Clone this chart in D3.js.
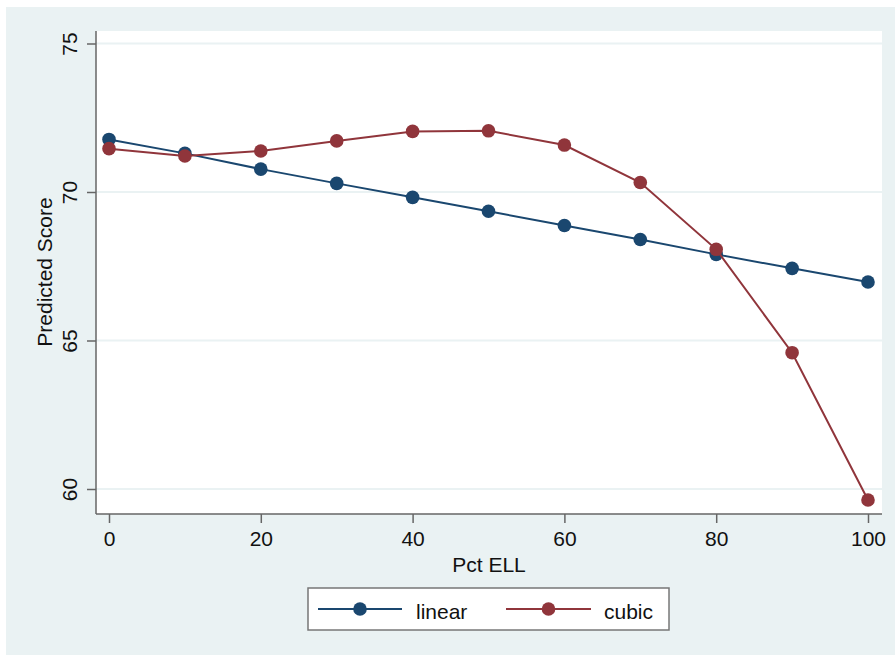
<!DOCTYPE html>
<html>
<head>
<meta charset="utf-8">
<script src="https://cdn.jsdelivr.net/npm/d3@7"></script>
<style>
  body { margin: 0; background: #fff; }
  text { font-family: "Liberation Sans", Arial, sans-serif; fill: #111; }
</style>
</head>
<body>
<div id="chart"></div>
<script>
"use strict";
// data
const pctEll = [0, 10, 20, 30, 40, 50, 60, 70, 80, 90, 100];
const linear = [71.77, 71.30, 70.77, 70.29, 69.82, 69.35, 68.87, 68.40, 67.90, 67.43, 66.97];
const cubic = [71.46, 71.21, 71.38, 71.72, 72.04, 72.06, 71.58, 70.32, 68.07, 64.59, 59.63];
const xTicks = [0, 20, 40, 60, 80, 100];
const yTicks = [60, 65, 70, 75];
const seriesNames = ["linear", "cubic"];
const seriesColors = ["#1a476f", "#90353b"];

const W = 895, H = 655;
const svg = d3.select("#chart").append("svg").attr("width", W).attr("height", H);

// graph region + plot region
svg.append("rect").attr("x", 6).attr("y", 7).attr("width", W - 6).attr("height", H - 7).attr("fill", "#eaf2f3");
const plot = {left: 96, right: 882, top: 31, bottom: 514};
svg.append("rect").attr("x", plot.left).attr("y", plot.top)
    .attr("width", plot.right - plot.left).attr("height", plot.bottom - plot.top).attr("fill", "#fff");

const x = d3.scaleLinear().domain([0, 100]).range([109, 868]);
const y = d3.scaleLinear().domain([60, 75]).range([489, 43.5]);

// gridlines
svg.append("g").selectAll("line").data(yTicks).join("line")
    .attr("x1", plot.left).attr("x2", plot.right)
    .attr("y1", d => y(d)).attr("y2", d => y(d))
    .attr("stroke", "#eaf2f3").attr("stroke-width", 2);

// y axis
const yAxis = svg.append("g").attr("transform", `translate(${plot.left},0)`)
    .call(d3.axisLeft(y).tickValues(yTicks).tickSize(9).tickSizeOuter(0).tickFormat(d3.format("d")));
yAxis.select(".domain").attr("d", `M0,${plot.top}V${plot.bottom}`).attr("stroke", "#666").attr("stroke-width", 1.5);
yAxis.selectAll(".tick line").attr("stroke", "#666").attr("stroke-width", 1.5);
yAxis.selectAll(".tick text")
    .attr("transform", "rotate(-90)")
    .attr("x", 0).attr("y", -19).attr("dy", 0)
    .attr("text-anchor", "middle")
    .style("font-size", "21px").style("font-family", "Liberation Sans, Arial, sans-serif").attr("fill", "#111");

// x axis
const xAxis = svg.append("g").attr("transform", `translate(0,${plot.bottom})`)
    .call(d3.axisBottom(x).tickValues(xTicks).tickSize(9).tickSizeOuter(0));
xAxis.select(".domain").attr("d", `M${plot.left},0H${plot.right}`).attr("stroke", "#666").attr("stroke-width", 1.5);
xAxis.selectAll(".tick line").attr("stroke", "#666").attr("stroke-width", 1.5);
xAxis.selectAll(".tick text")
    .attr("y", 32).attr("dy", 0)
    .style("font-size", "21px").style("font-family", "Liberation Sans, Arial, sans-serif").attr("fill", "#111");

// axis titles
svg.append("text").attr("x", 489).attr("y", 572).attr("text-anchor", "middle")
    .style("font-size", "21px").text("Pct ELL");
svg.append("text").attr("transform", "translate(52,272) rotate(-90)").attr("text-anchor", "middle")
    .style("font-size", "21px").text("Predicted Score");

// series
const line = d3.line().x((d, i) => x(pctEll[i])).y(d => y(d));
[linear, cubic].forEach((vals, k) => {
    const g = svg.append("g");
    g.append("path").attr("d", line(vals)).attr("fill", "none")
        .attr("stroke", seriesColors[k]).attr("stroke-width", 2);
    g.selectAll("circle").data(vals).join("circle")
        .attr("cx", (d, i) => x(pctEll[i])).attr("cy", d => y(d)).attr("r", 6.8)
        .attr("fill", seriesColors[k]);
});

// legend
const leg = svg.append("g");
leg.append("rect").attr("x", 308).attr("y", 588).attr("width", 361).attr("height", 42)
    .attr("fill", "#fff").attr("stroke", "#777").attr("stroke-width", 1.5);
const legItems = [{x0: 318, x1: 402, tx: 416}, {x0: 506, x1: 591, tx: 604}];
legItems.forEach((it, k) => {
    leg.append("line").attr("x1", it.x0).attr("x2", it.x1).attr("y1", 609).attr("y2", 609)
        .attr("stroke", seriesColors[k]).attr("stroke-width", 2);
    leg.append("circle").attr("cx", (it.x0 + it.x1) / 2).attr("cy", 609).attr("r", 6.8).attr("fill", seriesColors[k]);
    leg.append("text").attr("x", it.tx).attr("y", 619).style("font-size", "21px").text(seriesNames[k]);
});
</script>
</body>
</html>
